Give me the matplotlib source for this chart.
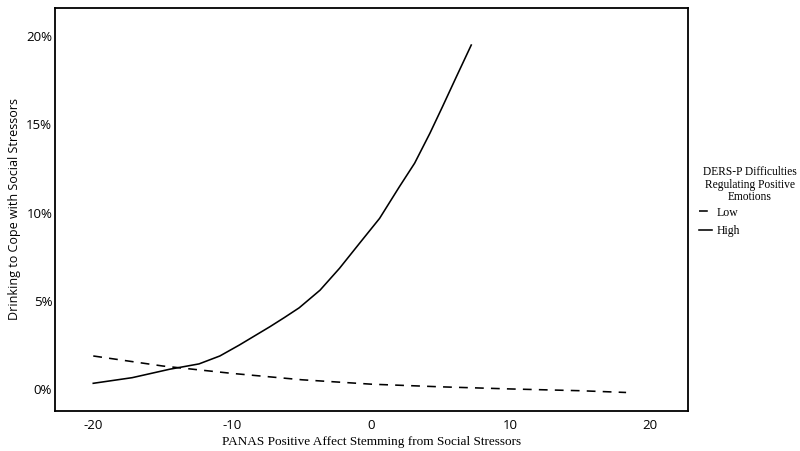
import matplotlib
matplotlib.use("Agg")
import matplotlib.pyplot as plt
from matplotlib.ticker import FuncFormatter

plt.rcParams["axes.unicode_minus"] = False

# Data
x_high = [-20, -17.2, -14.5, -12.4, -10.9, -9.5, -7.3, -6.26, -5.2, -3.7, -2.3, -0.86,
          0.58, 2.0, 3.1, 4.2, 5.1, 6.1, 7.17]
y_high = [0.32, 0.64, 1.12, 1.42, 1.87, 2.49, 3.53, 4.05, 4.6, 5.6, 6.84, 8.26,
          9.67, 11.46, 12.8, 14.5, 16.0, 17.7, 19.5]

x_low = [-20, -15, -10, -5, 0, 5, 10, 15, 18.3]
y_low = [1.87, 1.30, 0.88, 0.52, 0.27, 0.12, 0.0, -0.1, -0.2]

x_ticks = [-20, -10, 0, 10, 20]
y_ticks = [0, 5, 10, 15, 20]

legend_title = "DERS-P Difficulties\nRegulating Positive\nEmotions"
legend_labels = ["Low", "High"]

sans = ["Open Sans", "DejaVu Sans"]
serif = ["Liberation Serif", "DejaVu Serif"]

fig = plt.figure(figsize=(8, 4.51), dpi=100)
ax = fig.add_axes([55 / 800, 40 / 451, (688 - 55) / 800, (411 - 8) / 451])

l_low, = ax.plot(x_low, y_low, color="black", lw=1.15, linestyle=(0, (5.5, 4.5)))
l_high, = ax.plot(x_high, y_high, color="black", lw=1.15)

ax.set_xlim(-22.75, 22.75)
ax.set_ylim(-1.25, 21.6)
ax.set_xticks(x_ticks)
ax.set_yticks(y_ticks)
ax.yaxis.set_major_formatter(FuncFormatter(lambda v, p: f"{int(v)}%"))
ax.tick_params(length=0, labelsize=9.5)
ax.tick_params(axis="x", pad=6)
ax.tick_params(axis="y", pad=2)
for lab in ax.get_xticklabels() + ax.get_yticklabels():
    lab.set_family(sans)
for s in ax.spines.values():
    s.set_linewidth(1.3)

ax.set_xlabel("PANAS Positive Affect Stemming from Social Stressors", fontsize=9.5, family=serif, labelpad=3)
ax.set_ylabel("Drinking to Cope with Social Stressors", fontsize=9, family=sans, labelpad=4)

fig.text(750 / 800, 1 - 184.5 / 451, legend_title, ha="center", va="center",
         fontsize=8.3, family=serif, linespacing=1.1)
fig.legend([l_low, l_high], legend_labels, loc="upper left",
           bbox_to_anchor=(699 / 800, 1 - 206.5 / 451), frameon=False,
           prop={"family": serif, "size": 8.5}, handlelength=1.1,
           handletextpad=0.4, labelspacing=0.55, borderpad=0, borderaxespad=0)

fig.savefig("out.png", dpi=100)
